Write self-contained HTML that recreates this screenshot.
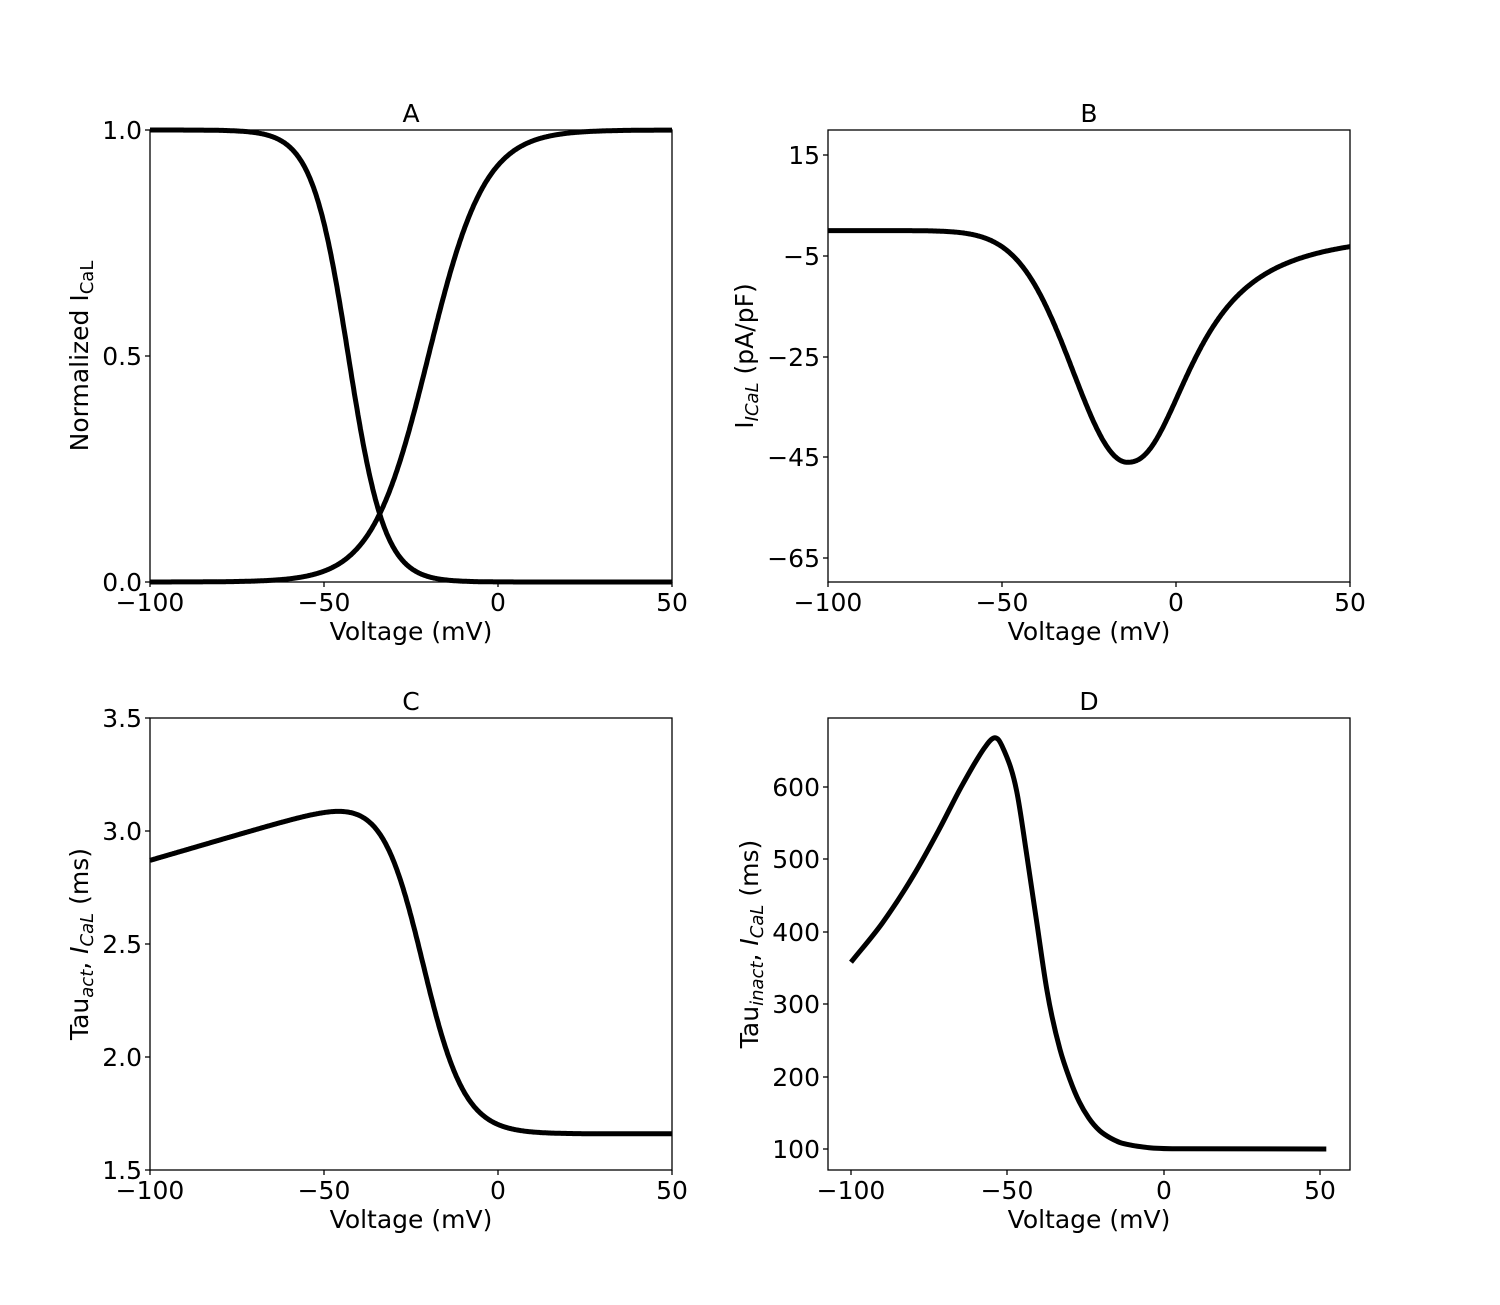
<!DOCTYPE html>
<html><head><meta charset="utf-8"><style>
html,body{margin:0;padding:0;background:#fff}
svg text{font-family:"DejaVu Sans","Liberation Sans",sans-serif;font-size:25px;fill:#000}
</style></head><body>
<svg id="s" width="1500" height="1300" xmlns="http://www.w3.org/2000/svg">
<rect width="1500" height="1300" fill="#fff"/>
<g fill="none" stroke="#000" stroke-width="1.3">
<rect x="150" y="130" width="522" height="452"/>
<rect x="828" y="130" width="522" height="452"/>
<rect x="150" y="718" width="522" height="452"/>
<rect x="828" y="718" width="522" height="452"/>
</g>
<g id="ticks" stroke="#000" stroke-width="1.3"></g>
<g id="curves" fill="none" stroke="#000" stroke-width="5" stroke-linejoin="round"></g>
<g text-anchor="middle">
<text x="411" y="122">A</text><text x="1089" y="122">B</text>
<text x="411" y="710">C</text><text x="1089" y="710">D</text>
<text x="411" y="640">Voltage (mV)</text><text x="1089" y="640">Voltage (mV)</text>
<text x="411" y="1228">Voltage (mV)</text><text x="1089" y="1228">Voltage (mV)</text>
<text x="150" y="611">−100</text><text x="324" y="611">−50</text><text x="498" y="611">0</text><text x="672" y="611">50</text>
<text x="828" y="611">−100</text><text x="1002" y="611">−50</text><text x="1176" y="611">0</text><text x="1350" y="611">50</text>
<text x="150" y="1199">−100</text><text x="324" y="1199">−50</text><text x="498" y="1199">0</text><text x="672" y="1199">50</text>
<text x="851" y="1199">−100</text><text x="1007" y="1199">−50</text><text x="1164" y="1199">0</text><text x="1320" y="1199">50</text>
</g>
<g text-anchor="end">
<text x="142" y="139">1.0</text><text x="142" y="365">0.5</text><text x="142" y="591">0.0</text>
<text x="820" y="164">15</text><text x="820" y="265">−5</text><text x="820" y="366">−25</text><text x="820" y="466">−45</text><text x="820" y="567">−65</text>
<text x="142" y="727">3.5</text><text x="142" y="840">3.0</text><text x="142" y="953">2.5</text><text x="142" y="1066">2.0</text><text x="142" y="1179">1.5</text>
<text x="820" y="796">600</text><text x="820" y="868">500</text><text x="820" y="941">400</text><text x="820" y="1013">300</text><text x="820" y="1086">200</text><text x="820" y="1158">100</text>
</g>
<text transform="translate(88,356) rotate(-90)" text-anchor="middle">Normalized I<tspan font-size="18" dy="5">CaL</tspan></text>
<text transform="translate(753,356) rotate(-90)" text-anchor="middle">I<tspan font-size="18" dy="5" font-style="italic">ICaL</tspan><tspan dy="-5"> (pA/pF)</tspan></text>
<text transform="translate(88,944) rotate(-90)" text-anchor="middle">Tau<tspan font-size="18" dy="5" font-style="italic">act</tspan><tspan dy="-5">, </tspan><tspan font-style="italic">I</tspan><tspan font-size="18" dy="5" font-style="italic">CaL</tspan><tspan dy="-5"> (ms)</tspan></text>
<text transform="translate(758,944) rotate(-90)" text-anchor="middle">Tau<tspan font-size="18" dy="5" font-style="italic">inact</tspan><tspan dy="-5">, </tspan><tspan font-style="italic">I</tspan><tspan font-size="18" dy="5" font-style="italic">CaL</tspan><tspan dy="-5"> (ms)</tspan></text>
</svg>
<script>
var NS="http://www.w3.org/2000/svg";
function path(d){var p=document.createElementNS(NS,"path");p.setAttribute("d",d);document.getElementById("curves").appendChild(p);}
function line(x1,y1,x2,y2){var l=document.createElementNS(NS,"line");l.setAttribute("x1",x1);l.setAttribute("y1",y1);l.setAttribute("x2",x2);l.setAttribute("y2",y2);document.getElementById("ticks").appendChild(l);}
function fn(f,X,Y,a,b){a=a||-100;b=b||50;var d="";for(var v=a;v<=b+0.001;v+=0.25){d+=(d?"L":"M")+X(v).toFixed(1)+","+Y(f(v)).toFixed(1);}path(d);}
[150,324,498,672].forEach(function(x){line(x,582,x,587);line(x,1170,x,1175);});
[828,1002,1176,1350].forEach(function(x){line(x,582,x,587);});
[851,1007,1164,1320].forEach(function(x){line(x,1170,x,1175);});
[130,356,582].forEach(function(y){line(150,y,145,y);});
[155,256,357,457,558].forEach(function(y){line(828,y,823,y);});
[718,831,944,1057,1170].forEach(function(y){line(150,y,145,y);});
[787,859,932,1004,1077,1149].forEach(function(y){line(828,y,823,y);});
var XA=function(v){return 150+3.48*(v+100);},XB=function(v){return 828+3.48*(v+100);};
var YA=function(y){return 582-452*y;};
fn(function(v){return 1/(1+Math.exp(-(v+20)/8.1));},XA,YA);
fn(function(v){return 1/(1+Math.exp((v+43)/5.2));},XA,YA);
var YB=function(i){return 155+(15-i)*5.0375;};
fn(function(v){var dv=v+14;return dv<0?-46*Math.exp(-dv*dv/(2*15.6*15.6)):-46/(1+Math.pow(dv/21.3,2.36));},XB,YB);
var YC=function(t){return 718+(3.5-t)*226;};
fn(function(v){var f=1/(1+Math.exp((v+22)/6));return 1.66+f*(1.21+(v+100)*0.0045);},XA,YC);
var P=[[-100,358],[-90,412],[-80,478],[-72,540],[-65,598],[-60,636],[-57,656],[-55,666],[-54,668],[-53,666],[-51,650],[-47,594],[-43.7,503],[-40.5,410],[-37.3,318],[-33.2,238],[-30,196],[-27,165],[-24,143],[-20.4,125],[-17,115],[-14,109],[-10,105],[-5,102],[5,100.3],[52,100]];
var n=P.length,dl=[],m=[];
for(var i=0;i<n-1;i++)dl.push((P[i+1][1]-P[i][1])/(P[i+1][0]-P[i][0]));
m[0]=dl[0];m[n-1]=dl[n-2];
for(i=1;i<n-1;i++){var h0=P[i][0]-P[i-1][0],h1=P[i+1][0]-P[i][0];m[i]=(dl[i-1]*dl[i]<=0)?0:(dl[i-1]*h1+dl[i]*h0)/(h0+h1);}
for(i=0;i<n-1;i++){if(dl[i]==0){m[i]=m[i+1]=0;continue;}var a=m[i]/dl[i],b=m[i+1]/dl[i],s=a*a+b*b;if(s>9){var t=3/Math.sqrt(s);m[i]=t*a*dl[i];m[i+1]=t*b*dl[i];}}
var XD=function(v){return 1163.7+3.127*v;},YD=function(t){return 1149-(t-100)*0.724;};
var d="M"+XD(P[0][0]).toFixed(1)+","+YD(P[0][1]).toFixed(1);
for(i=0;i<n-1;i++){var h=P[i+1][0]-P[i][0];
d+="C"+XD(P[i][0]+h/3).toFixed(1)+","+YD(P[i][1]+m[i]*h/3).toFixed(1)+" "+XD(P[i+1][0]-h/3).toFixed(1)+","+YD(P[i+1][1]-m[i+1]*h/3).toFixed(1)+" "+XD(P[i+1][0]).toFixed(1)+","+YD(P[i+1][1]).toFixed(1);}
path(d);
</script>
</body></html>
